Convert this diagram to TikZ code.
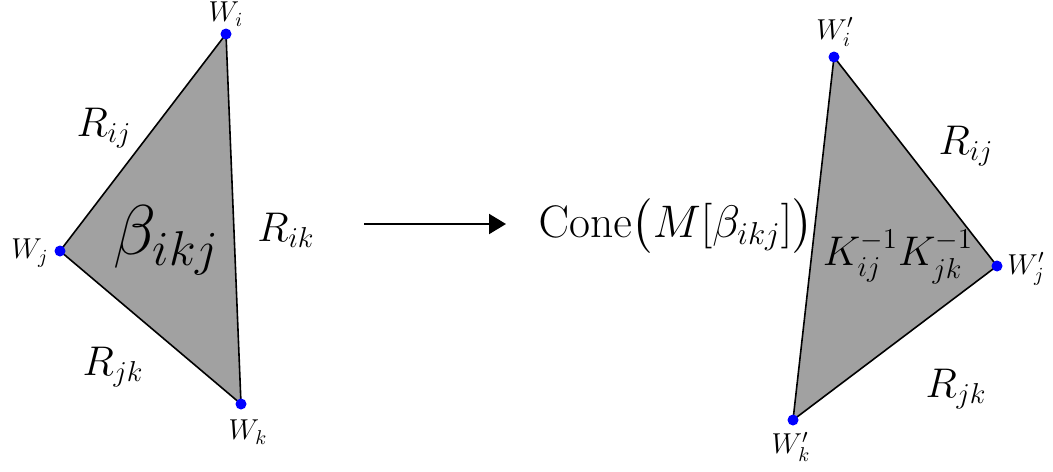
\documentclass[tikz,border=0pt]{standalone}
\usepackage{amsmath,amssymb}
\usepackage{tikz}
\usetikzlibrary{arrows.meta, positioning}

\begin{document}
\begin{tikzpicture}[
        x=0.5pt, y=-0.5pt,
        face/.style={fill=black!37},
        edge/.style={draw=black, line width=0.8pt, line join=round},
        vtx/.style={circle, fill=blue, inner sep=0pt, minimum size=5.5pt},
        vlab/.style={font=\Large},
        elab/.style={font=\huge},
        arr/.style={-{Triangle[length=8.5pt,width=10pt]}, line width=1pt}
    ]
        \useasboundingbox (0,0) rectangle (1053,471);

        % left triangle
        \coordinate (wi) at (226,34);
        \coordinate (wj) at (60,251);
        \coordinate (wk) at (241,404);
        \fill[face] (wi) -- (wj) -- (wk) -- cycle;
        \draw[edge] (wi) -- (wj) -- (wk) -- cycle;
        \node[vtx] (dwi) at (wi) {};
        \node[vtx] (dwj) at (wj) {};
        \node[vtx] (dwk) at (wk) {};
        \node[vlab] (lwi) at (226,14) {$W_i$};
        \node[vlab] (lwj) at (30,253) {$W_j$};
        \node[vlab] (lwk) at (248,432) {$W_k$};
        \node[elab] (rij) at (104,128) {$R_{ij}$};
        \node[elab] (rik) at (286,230) {$R_{ik}$};
        \node[elab] (rjk) at (113,367) {$R_{jk}$};
        \node (beta) at (167,240) {\scalebox{1.7}{\huge$\beta_{ikj}$}};

        % map
        \coordinate (as) at (364,224);
        \coordinate (ae) at (506,224);
        \draw[arr] (as) -- (ae);
        \node[elab] (cone) at (676,226) {\scalebox{1.1}{$\mathrm{Cone}\bigl(M[\beta_{ikj}]\bigr)$}};

        % right triangle
        \coordinate (vi) at (834,57);
        \coordinate (vj) at (997,266);
        \coordinate (vk) at (793,420);
        \fill[face] (vi) -- (vj) -- (vk) -- cycle;
        \draw[edge] (vi) -- (vj) -- (vk) -- cycle;
        \node[vtx] (dvi) at (vi) {};
        \node[vtx] (dvj) at (vj) {};
        \node[vtx] (dvk) at (vk) {};
        \node[vlab] (lvi) at (835,32) {$W'_i$};
        \node[vlab] (lvj) at (1026,269) {$W'_j$};
        \node[vlab] (lvk) at (791,447) {$W'_k$};
        \node[elab] (sij) at (966,146) {$R_{ij}$};
        \node[elab] (sjk) at (956,389) {$R_{jk}$};
        \node[elab] (kk) at (898,257) {$K_{ij}^{-1}K_{jk}^{-1}$};
\end{tikzpicture}
\end{document}
